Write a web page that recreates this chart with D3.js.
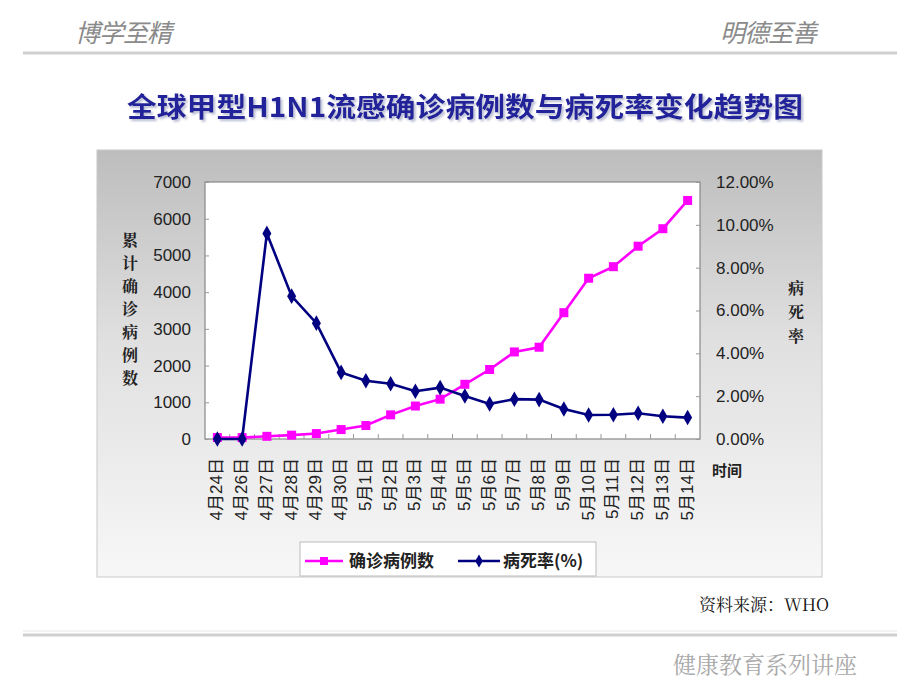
<!DOCTYPE html>
<html><head><meta charset="utf-8">
<script src="https://cdn.jsdelivr.net/npm/d3@7"></script>
<style>body{margin:0;background:#fff}svg{display:block}</style>
</head><body>
<script>
const categories = ["4月24日","4月26日","4月27日","4月28日","4月29日","4月30日","5月1日","5月2日","5月3日","5月4日","5月5日","5月6日","5月7日","5月8日","5月9日","5月10日","5月11日","5月12日","5月13日","5月14日"];
const cases = [40,38,73,105,148,257,367,658,898,1085,1490,1893,2371,2500,3440,4379,4694,5251,5728,6497];
const deathRate = [0,0,9.6,6.67,5.41,3.11,2.72,2.58,2.23,2.40,2.01,1.64,1.86,1.84,1.40,1.12,1.13,1.20,1.06,1.00];
const leftTicks = [0,1000,2000,3000,4000,5000,6000,7000];
const rightTicks = [0,2,4,6,8,10,12];

const W=920,H=690;
const svg=d3.select("body").append("svg").attr("width",W).attr("height",H);
const defs=svg.append("defs");
const g1=defs.append("linearGradient").attr("id","bg").attr("x1",0).attr("y1",0).attr("x2",0).attr("y2",1);
g1.append("stop").attr("offset","0%").attr("stop-color","#bdbdbd");
g1.append("stop").attr("offset","45%").attr("stop-color","#e0e0e0");
g1.append("stop").attr("offset","100%").attr("stop-color","#f7f7f7");
const f=defs.append("filter").attr("id","sh").attr("x","-5%").attr("y","-20%").attr("width","110%").attr("height","150%");
f.append("feDropShadow").attr("dx",2).attr("dy",2).attr("stdDeviation",1).attr("flood-color","#9aa0c0").attr("flood-opacity",0.7);

// header
const cjk='"Noto Sans CJK SC", sans-serif';
svg.append("text").attr("x",75).attr("y",42).attr("font-family",cjk).attr("font-size",25).attr("font-style","italic").attr("fill","#8a8a8a").attr("letter-spacing",-1).text("博学至精");
svg.append("text").attr("x",720).attr("y",42).attr("font-family",cjk).attr("font-size",25).attr("font-style","italic").attr("fill","#8a8a8a").attr("letter-spacing",-1).text("明德至善");
[53,635].forEach(y=>{
  svg.append("line").attr("x1",23).attr("x2",897).attr("y1",y).attr("y2",y).attr("stroke","#cfcfcf").attr("stroke-width",3);
});
svg.append("line").attr("x1",23).attr("x2",897).attr("y1",631).attr("y2",631).attr("stroke","#e6e6e6").attr("stroke-width",1);

// title
svg.append("text").attr("x",465).attr("y",117).attr("text-anchor","middle").attr("font-family",cjk).attr("font-weight","bold").attr("font-size",27).attr("fill","#23239a").attr("filter","url(#sh)").attr("textLength",676).attr("lengthAdjust","spacingAndGlyphs").text("全球甲型H1N1流感确诊病例数与病死率变化趋势图");

// chart box
svg.append("rect").attr("x",97).attr("y",150).attr("width",725).attr("height",427).attr("fill","url(#bg)").attr("stroke","#c8c8c8");

const pl=205,pr=700,pt=182,pb=439;
svg.append("rect").attr("x",pl).attr("y",pt).attr("width",pr-pl).attr("height",pb-pt).attr("fill","#fff").attr("stroke","#888").attr("stroke-width",1.2);

const x=d3.scaleBand().domain(categories).range([pl,pr]);
const yL=d3.scaleLinear().domain([0,7000]).range([pb,pt]);
const yR=d3.scaleLinear().domain([0,12]).range([pb,pt]);

const num='Arial, "Liberation Sans", sans-serif';
// left axis
const la=svg.append("g").attr("transform",`translate(${pl},0)`).call(d3.axisLeft(yL).tickValues(leftTicks).tickSize(-4).tickPadding(14).tickFormat(d3.format("d")));
la.select(".domain").remove();
la.selectAll("line").attr("stroke","#999");
la.selectAll("text").attr("font-family",num).attr("font-size",17).attr("fill","#222");
// right axis
const ra=svg.append("g").attr("transform",`translate(${pr},0)`).call(d3.axisRight(yR).tickValues(rightTicks).tickSize(-4).tickPadding(16).tickFormat(d=>d.toFixed(2)+"%"));
ra.select(".domain").remove();
ra.selectAll("line").attr("stroke","#999");
ra.selectAll("text").attr("font-family",num).attr("font-size",17).attr("fill","#222");
// bottom ticks between categories
svg.append("g").selectAll("line").data(categories.slice(1)).join("line")
  .attr("x1",d=>x(d)).attr("x2",d=>x(d)).attr("y1",pb).attr("y2",pb-5).attr("stroke","#999");
// x labels
svg.append("g").selectAll("text").data(categories).join("text")
  .attr("transform",d=>`translate(${x(d)+x.bandwidth()/2+5},${pb+19}) rotate(-90)`)
  .attr("text-anchor","end").attr("font-family",'Arial, "Noto Sans CJK SC", sans-serif').attr("font-size",17).attr("fill","#222").text(d=>d);

// axis titles
const vt=(chars,xx,y0,dy)=>chars.split("").forEach((c,i)=>svg.append("text").attr("x",xx).attr("y",y0+i*dy).attr("text-anchor","middle").attr("font-family",'"Noto Serif CJK SC","Noto Sans CJK SC",serif').attr("font-weight","bold").attr("font-size",16).attr("fill","#222").text(c));
vt("累计确诊病例数",130,246,23);
vt("病死率",796,294,24);
svg.append("text").attr("x",727).attr("y",476).attr("text-anchor","middle").attr("font-family",cjk).attr("font-weight","bold").attr("font-size",15).attr("fill","#222").text("时间");

const cx=d=>x(d)+x.bandwidth()/2;
// cases line
svg.append("path").datum(cases).attr("fill","none").attr("stroke","#ff00ff").attr("stroke-width",2.6)
  .attr("d",d3.line().x((d,i)=>cx(categories[i])).y(d=>yL(d)));
svg.append("g").selectAll("rect").data(cases).join("rect")
  .attr("x",(d,i)=>cx(categories[i])-4.5).attr("y",d=>yL(d)-4.5).attr("width",9).attr("height",9).attr("fill","#ff00ff");
// death rate line
svg.append("path").datum(deathRate).attr("fill","none").attr("stroke","#000080").attr("stroke-width",2.6)
  .attr("d",d3.line().x((d,i)=>cx(categories[i])).y(d=>yR(d)));
svg.append("g").selectAll("path").data(deathRate).join("path")
  .attr("d",d3.symbol(d3.symbolDiamond,70)).attr("transform",(d,i)=>`translate(${cx(categories[i])},${yR(d)})`).attr("fill","#000080");

// legend
svg.append("rect").attr("x",300).attr("y",542).attr("width",296).attr("height",34).attr("fill","#fff").attr("stroke","#bbb");
svg.append("line").attr("x1",305).attr("x2",343).attr("y1",561).attr("y2",561).attr("stroke","#ff00ff").attr("stroke-width",2.6);
svg.append("rect").attr("x",320).attr("y",557).attr("width",8).attr("height",8).attr("fill","#ff00ff");
svg.append("text").attr("x",349).attr("y",567).attr("font-family",cjk).attr("font-weight","bold").attr("font-size",17).attr("fill","#222").text("确诊病例数");
svg.append("line").attr("x1",458).attr("x2",500).attr("y1",561).attr("y2",561).attr("stroke","#000080").attr("stroke-width",2.6);
svg.append("path").attr("d",d3.symbol(d3.symbolDiamond,50)).attr("transform","translate(479,561)").attr("fill","#000080");
svg.append("text").attr("x",503).attr("y",567).attr("font-family",cjk).attr("font-weight","bold").attr("font-size",17).attr("fill","#222").text("病死率(%)");

// source
svg.append("text").attr("x",829).attr("y",611).attr("text-anchor","end").attr("font-family",'"Noto Serif CJK SC","Liberation Serif",serif').attr("font-size",17).attr("fill","#111").text("资料来源：WHO");
// footer
svg.append("text").attr("x",857).attr("y",673).attr("text-anchor","end").attr("font-family",'"Noto Serif CJK SC","Noto Sans CJK SC",serif').attr("font-size",23).attr("fill","#a8a8a8").text("健康教育系列讲座");
</script>
</body></html>
